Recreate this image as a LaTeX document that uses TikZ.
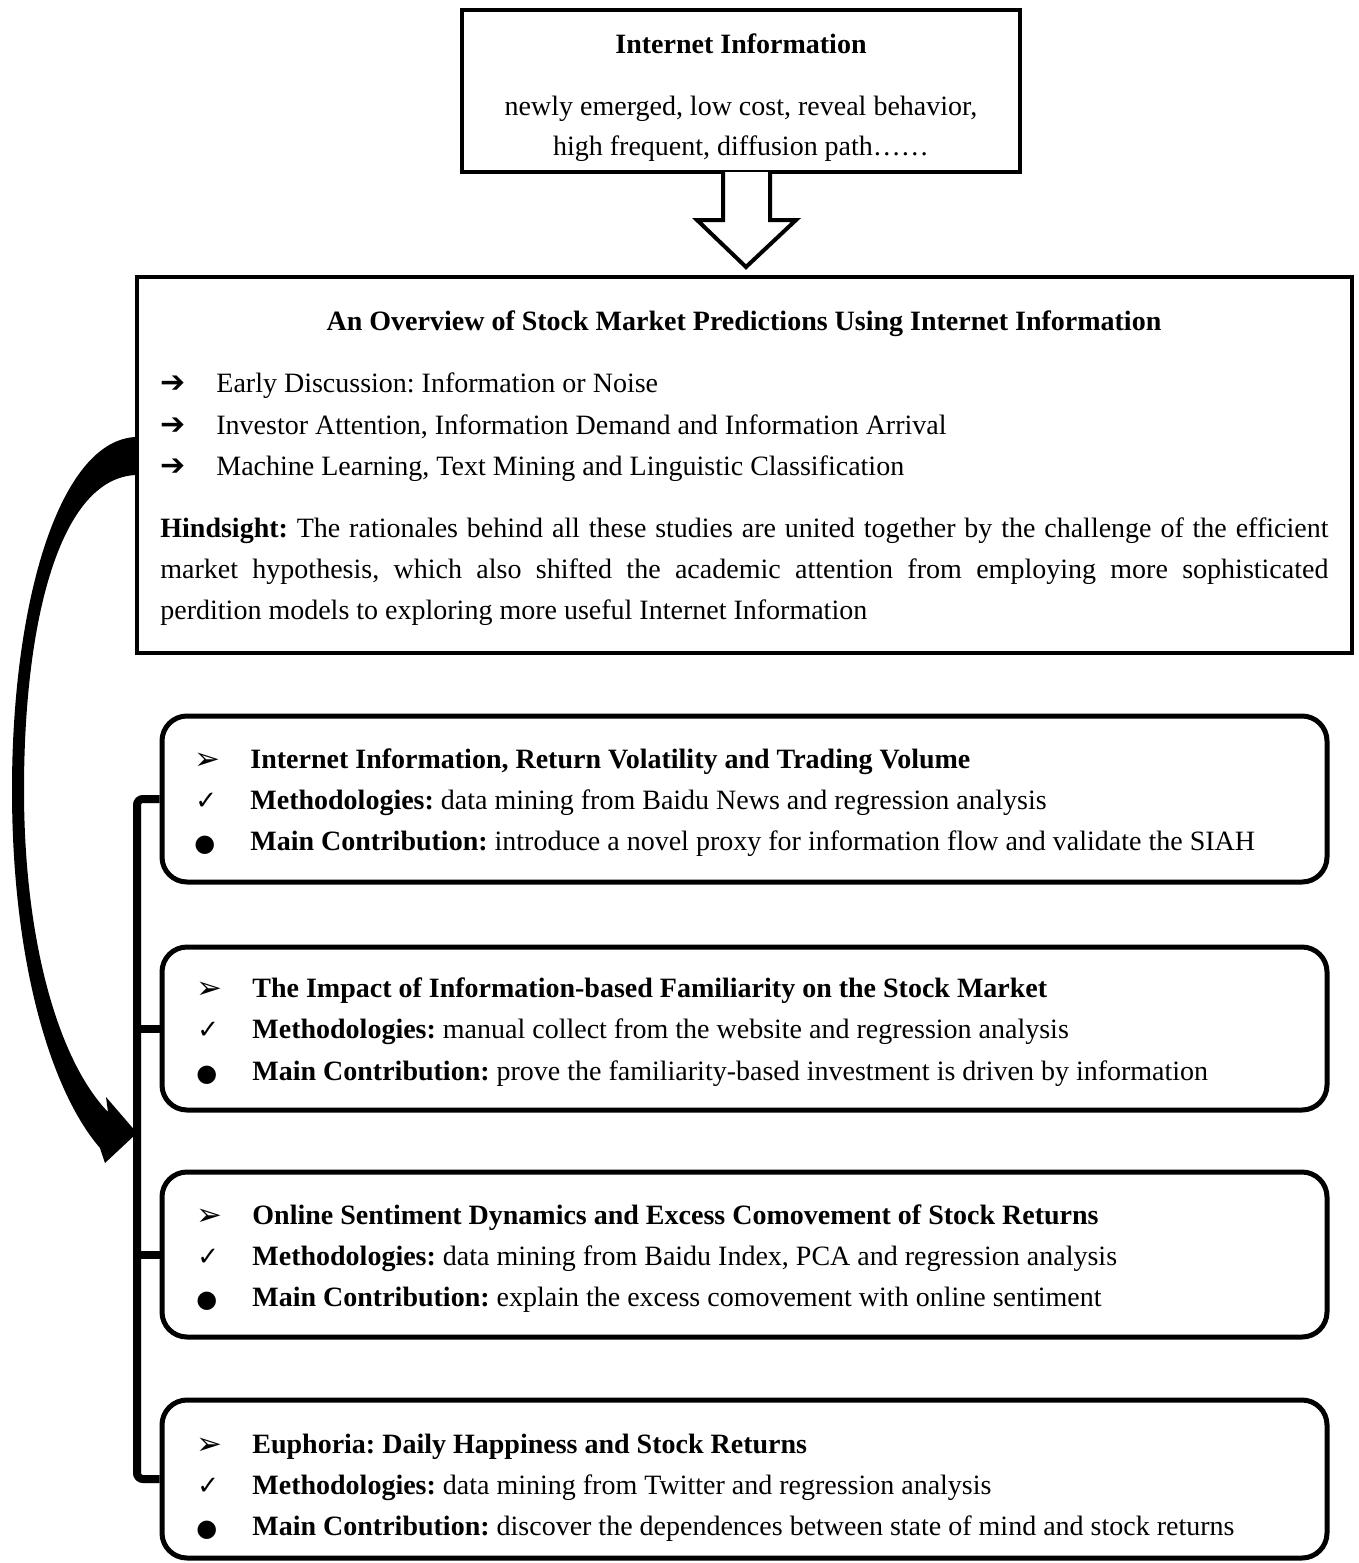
\documentclass[tikz,border=0pt]{standalone}
\usepackage{fontspec}
\setmainfont{Liberation Serif}
\newfontfamily\symfont{DejaVu Sans}
\frenchspacing
\begin{document}
\frenchspacing
\begin{tikzpicture}[x=0.5pt,y=-0.5pt,
  plainbox/.style={draw, line width=2pt, fill=white, inner sep=0pt},
  roundbox/.style={draw, line width=2.5pt, rounded corners=12.5pt, fill=white, inner sep=0pt, minimum width=582.5pt},
  txt/.style={anchor=base west, inner sep=0pt, font=\fontsize{14}{17}\selectfont},
  ctxt/.style={anchor=base, inner sep=0pt, font=\fontsize{14}{17}\selectfont},
  bul/.style={anchor=base west, inner sep=0pt, font=\symfont\fontsize{13}{15}\selectfont},
  head/.style={anchor=base west, inner sep=0pt, font=\symfont\fontsize{15.5}{17}\selectfont},
  dot/.style={anchor=base west, inner sep=0pt, font=\symfont\fontsize{12}{14}\selectfont},
  arr/.style={anchor=base west, inner sep=0pt, font=\symfont\fontsize{15}{17}\selectfont},
  bracket/.style={line width=4pt, rounded corners=3pt},
  shadowline/.style={line width=4pt, draw=black!25, rounded corners=3pt}
]
\useasboundingbox (0,0) rectangle (1359,1563);

% curved arrow
\fill (136,437) .. controls (60,440) and (12,600) .. (12,790)
  .. controls (12,960) and (50,1090) .. (100,1148)
  -- (105,1163) -- (137,1133) -- (106,1097) -- (108,1112)
  .. controls (58,1060) and (24,940) .. (24,790)
  .. controls (24,620) and (60,478) .. (136,475) -- cycle;

% top box
\node[plainbox, minimum width=279pt, minimum height=81pt] (top) at (741,91) {};
\node[ctxt] (t1) at (741,53) {\textbf{Internet Information}};
\node[ctxt] (t2) at (741,115) {newly emerged, low cost, reveal behavior,};
\node[ctxt] (t3) at (741,155) {high frequent, diffusion path……};

% block arrow
\draw[line width=2pt, fill=white, line join=miter]
  (723,172) -- (723,220) -- (697,220) -- (746,267) -- (796,220) -- (770,220) -- (770,172);

% overview box
\node[plainbox, line width=2.3pt, minimum width=607.5pt, minimum height=188pt] (ov) at (744.5,465) {};
\node[ctxt] (ovt) at (744,330) {\textbf{An Overview of Stock Market Predictions Using Internet Information}};
\node[arr] (a1) at (160,392) {➔};
\node[txt] (o1) at (216,392) {Early Discussion: Information or Noise};
\node[arr] (a2) at (160,434) {➔};
\node[txt] (o2) at (216,434) {Investor Attention, Information Demand and Information Arrival};
\node[arr] (a3) at (160,475) {➔};
\node[txt] (o3) at (216,475) {Machine Learning, Text Mining and Linguistic Classification};
\node[txt] (h1) at (160,537) {\makebox[584pt][s]{\textbf{Hindsight:} The rationales behind all these studies are united together by the challenge of the efficient}};
\node[txt] (h2) at (160,578) {\makebox[584pt][s]{market hypothesis, which also shifted the academic attention from employing more sophisticated}};
\node[txt] (h3) at (160,619) {perdition models to exploring more useful Internet Information};

% rounded boxes
\node[roundbox, minimum height=83pt] (b1) at (744.5,799) {};
\node[roundbox, minimum height=81.5pt] (b2) at (744.5,1028.5) {};
\node[roundbox, minimum height=82.5pt] (b3) at (744.5,1254.5) {};
\node[roundbox, minimum height=79pt] (b4) at (744.5,1479) {};

% bracket
\coordinate (bx) at (137,0);
\begin{scope}[shift={(3,6)}]
\draw[shadowline] (b1.west) -- (b1.west -| bx) -- (b4.west -| bx) -- (b4.west);
\draw[shadowline] (b2.west) -- (b2.west -| bx);
\draw[shadowline] (b3.west) -- (b3.west -| bx);
\end{scope}
\draw[bracket] (b1.west) -- (b1.west -| bx) -- (b4.west -| bx) -- (b4.west);
\draw[bracket] (b2.west) -- (b2.west -| bx);
\draw[bracket] (b3.west) -- (b3.west -| bx);

% box 1
\node[head] (p11) at (194,769) {➢};
\node[txt] (s11) at (250,768) {\textbf{Internet Information, Return Volatility and Trading Volume}};
\node[bul] (p12) at (195,809) {✓};
\node[txt] (s12) at (250,809) {\textbf{Methodologies:} data mining from Baidu News and regression analysis};
\node[dot] (p13) at (194,851) {●};
\node[txt] (s13) at (250,850) {\textbf{Main Contribution:} introduce a novel proxy for information flow and validate the SIAH};

% box 2
\node[head] (p21) at (196,998) {➢};
\node[txt] (s21) at (252,997) {\textbf{The Impact of Information-based Familiarity on the Stock Market}};
\node[bul] (p22) at (197,1038) {✓};
\node[txt] (s22) at (252,1038) {\textbf{Methodologies:} manual collect from the website and regression analysis};
\node[dot] (p23) at (196,1081) {●};
\node[txt] (s23) at (252,1080) {\textbf{Main Contribution:} prove the familiarity-based investment is driven by information};

% box 3
\node[head] (p31) at (196,1225) {➢};
\node[txt] (s31) at (252,1224) {\textbf{Online Sentiment Dynamics and Excess Comovement of Stock Returns}};
\node[bul] (p32) at (197,1265) {✓};
\node[txt] (s32) at (252,1265) {\textbf{Methodologies:} data mining from Baidu Index, PCA and regression analysis};
\node[dot] (p33) at (196,1307) {●};
\node[txt] (s33) at (252,1306) {\textbf{Main Contribution:} explain the excess comovement with online sentiment};

% box 4
\node[head] (p41) at (196,1454) {➢};
\node[txt] (s41) at (252,1453) {\textbf{Euphoria: Daily Happiness and Stock Returns}};
\node[bul] (p42) at (197,1494) {✓};
\node[txt] (s42) at (252,1494) {\textbf{Methodologies:} data mining from Twitter and regression analysis};
\node[dot] (p43) at (196,1536) {●};
\node[txt] (s43) at (252,1535) {\textbf{Main Contribution:} discover the dependences between state of mind and stock returns};
\end{tikzpicture}
\end{document}
